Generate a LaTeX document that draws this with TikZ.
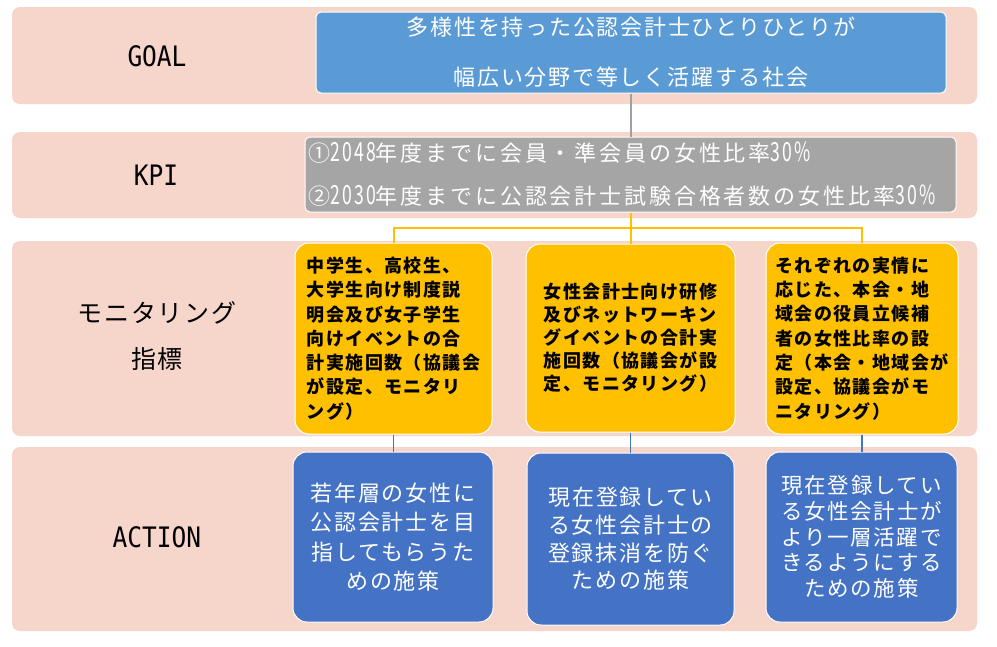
\documentclass[tikz,border=0pt]{standalone}
\usepackage{fontspec}
\usepackage{graphicx}
\newfontfamily\jp[LetterSpace=8]{Noto Sans CJK JP}
\newfontfamily\jpk[LetterSpace=13]{Noto Sans CJK JP}
\newfontfamily\jpl[LetterSpace=7]{Noto Sans CJK JP}
\newfontfamily\lmono{DejaVu Sans Mono}
\newcommand\kdg[1]{\scalebox{0.8}[1.2]{#1}}
\definecolor{bandpink}{HTML}{F6D5CB}
\definecolor{goalblue}{HTML}{5B9BD5}
\definecolor{kpigray}{HTML}{A5A5A5}
\definecolor{monyellow}{HTML}{FFC000}
\definecolor{actblue}{HTML}{4472C4}
\definecolor{linegray}{HTML}{A0A0A0}
\tikzset{
  band/.style={fill=bandpink, rounded corners=8pt, inner sep=0pt, minimum width=965pt},
  rowlabel/.style={font=\lmono\fontsize{24.5}{28}\selectfont, text=black, inner sep=0pt},
  rowlabeljp/.style={font=\jpl\fontsize{25}{46}\selectfont, text=black, inner sep=0pt, align=center},
  goalbox/.style={fill=goalblue, draw=white, line width=1pt, rounded corners=5pt, text=white,
    align=center, font=\jp\fontsize{22}{50}\selectfont, inner sep=0pt},
  kpibox/.style={fill=kpigray, draw=white, line width=1pt, rounded corners=5pt, text=white,
    align=left, text width=645pt, inner xsep=3pt, inner ysep=0pt, font=\jpk\fontsize{22}{43}\selectfont},
  ybox/.style={fill=monyellow, draw=white, line width=1pt, rounded corners=14pt, text=black,
    align=left, inner sep=0pt},
  abox/.style={fill=actblue, draw=white, line width=1pt, rounded corners=14pt, text=white,
    align=center, inner sep=0pt},
  gline/.style={draw=linegray, line width=1.5pt},
  yline/.style={draw=monyellow, line width=2pt},
  bline/.style={draw=actblue, line width=1.5pt},
}
\begin{document}
\begin{tikzpicture}[x=1pt,y=-1pt]
\useasboundingbox[fill=white] (0,0) rectangle (997,646);
% bands
\node[band, minimum height=97pt] (goalband) at (494.5,55.5) {};
\node[band, minimum height=86pt] (kpiband) at (494.5,175) {};
\node[band, minimum height=195pt] (monband) at (494.5,338.5) {};
\node[band, minimum height=184pt] (actband) at (494.5,539) {};
% row labels
\node[rowlabel] (lgoal) at (157,56) {\scalebox{1}[1.15]{GOAL}};
\node[rowlabel] (lkpi) at (156,175) {\scalebox{1}[1.15]{KPI}};
\node[rowlabeljp] (lmon) at (157,336) {モニタリング\\指標};
\node[rowlabel] (lact) at (157,537) {\scalebox{1}[1.15]{ACTION}};
% connector anchors
\coordinate (ybar) at (630.5,228);
% boxes
\node[goalbox, minimum width=630pt, minimum height=81pt] (goal) at (631,52.5)
  {多様性を持った公認会計士ひとりひとりが\\幅広い分野で等しく活躍する社会};
\node[kpibox, minimum width=651pt, minimum height=75pt] (kpi) at (630.5,174.5)
  {①\kdg{2048}年度までに会員・準会員の女性比率\kdg{30\%}\\②\kdg{2030}年度までに公認会計士試験合格者数の女性比率\kdg{30\%}};
\node[ybox, minimum width=197pt, minimum height=191pt, font=\jp\bfseries\fontsize{18}{24.3}\selectfont] (y1) at (393.5,338.5)
  {中学生、高校生、\\大学生向け制度説\\明会及び女子学生\\向けイベントの合\\計実施回数（協議会\\が設定、モニタリ\\ング）};
\node[ybox, minimum width=209pt, minimum height=188pt, font=\jp\bfseries\fontsize{18}{23}\selectfont] (y2) at (630.5,338)
  {女性会計士向け研修\\及びネットワーキン\\グイベントの合計実\\施回数（協議会が設\\定、モニタリング）};
\node[ybox, minimum width=192pt, minimum height=191pt, font=\jp\bfseries\fontsize{18}{24.3}\selectfont] (y3) at (862,338.5)
  {それぞれの実情に\\応じた、本会・地\\域会の役員立候補\\者の女性比率の設\\定（本会・地域会が\\設定、協議会がモ\\ニタリング）};
\node[abox, minimum width=200pt, minimum height=170pt, font=\jp\fontsize{22}{29.3}\selectfont] (a1) at (393,537)
  {若年層の女性に\\公認会計士を目\\指してもらうた\\めの施策};
\node[abox, minimum width=207pt, minimum height=172pt, font=\jp\fontsize{22}{27.7}\selectfont] (a2) at (630.5,539)
  {現在登録してい\\る女性会計士の\\登録抹消を防ぐ\\ための施策};
\node[abox, minimum width=191pt, minimum height=170pt, font=\jp\fontsize{21.5}{25.7}\selectfont] (a3) at (861.5,537)
  {現在登録してい\\る女性会計士が\\より一層活躍で\\きるようにする\\ための施策};
% connectors
\draw[gline] (goal.south) -- (goal.south |- kpi.north);
\draw[yline] (kpi.south) -- (ybar);
\draw[yline] (y1.north) |- (ybar) -| (y3.north);
\draw[yline] (ybar) -- (y2.north);
\draw[bline] (y1.south) -- (y1.south |- a1.north);
\draw[bline] (y2.south) -- (y2.south |- a2.north);
\draw[bline] (y3.south) -- (y3.south |- a3.north);
\end{tikzpicture}
\end{document}
